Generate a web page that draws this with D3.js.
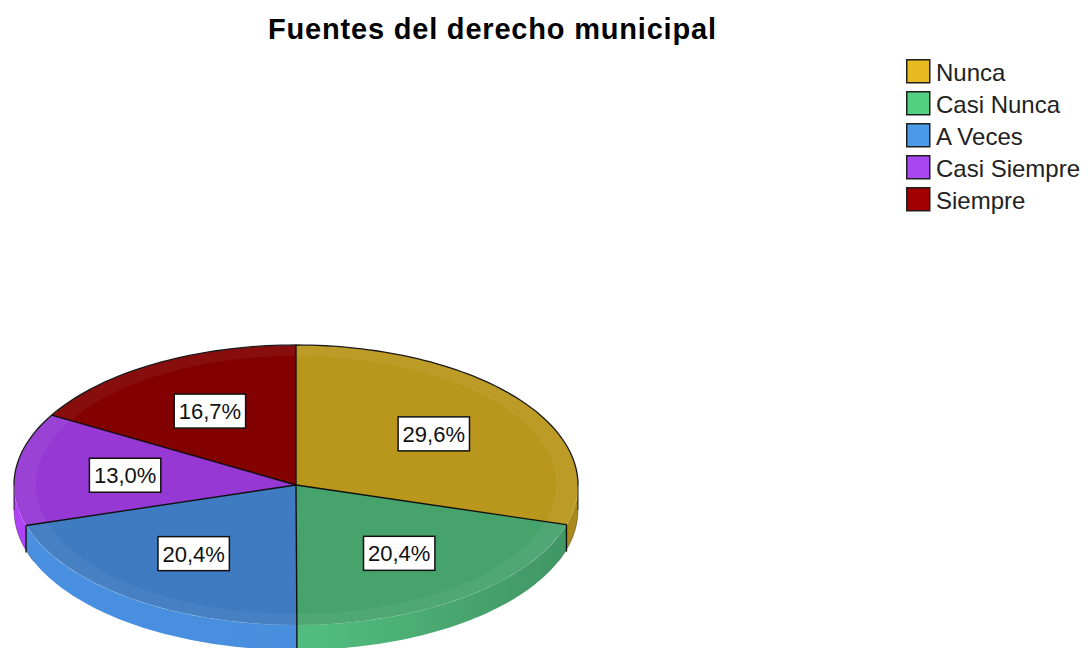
<!DOCTYPE html>
<html lang="es">
<head>
<meta charset="utf-8">
<title>Fuentes del derecho municipal</title>
<script src="https://cdn.jsdelivr.net/npm/d3@7/dist/d3.min.js"></script>
<style>
  html, body { margin: 0; padding: 0; background: #ffffff; }
  svg { display: block; font-family: "Liberation Sans", Arial, sans-serif; }
</style>
</head>
<body>
<svg id="chart" width="1090" height="648"></svg>
<script>
// Data
const categories = ["Nunca", "Casi Nunca", "A Veces", "Casi Siempre", "Siempre"];
const percentages = [29.6, 20.4, 20.4, 13.0, 16.7];
const chartTitle = "Fuentes del derecho municipal";

// Styles
const topColors    = ["#b9961c", "#46a36c", "#3e7bc0", "#9638d4", "#820000"];
const legendColors = ["#e8bb22", "#52cf80", "#4a9ae8", "#a846f2", "#a00000"];

const width = 1090, height = 648;
const cx = 296, cy = 485, rx = 282, ry = 140, depth = 25;
const labelFrac = 0.61;

const svg = d3.select("#chart");
const defs = svg.append("defs");

const fmt = v => d3.format(".1f")(v).replace(".", ",") + "%";

const pie = d3.pie().sort(null).value(d => d.value);
const slices = pie(categories.map((c, i) => ({ name: c, value: percentages[i], i })));

const pt = (a, dy = 0, f = 1) => [cx + f * rx * Math.sin(a), cy - f * ry * Math.cos(a) + dy];

// Title
svg.append("text")
  .attr("x", 492).attr("y", 39)
  .attr("text-anchor", "middle")
  .attr("font-weight", "bold")
  .attr("font-size", 29)
  .attr("textLength", 448)
  .attr("lengthAdjust", "spacing")
  .attr("fill", "#000")
  .text(chartTitle);

// Side wall gradients, one per slice, lighter toward the front-left
slices.forEach(d => {
  const base = d3.color(topColors[d.data.i]);
  const g = defs.append("linearGradient")
    .attr("id", "wall" + d.data.i)
    .attr("gradientUnits", "userSpaceOnUse")
    .attr("x1", cx - rx).attr("x2", cx + rx).attr("y1", 0).attr("y2", 0);
  g.append("stop").attr("offset", 0).attr("stop-color", base.brighter(0.45));
  g.append("stop").attr("offset", 0.55).attr("stop-color", base.brighter(0.4));
  g.append("stop").attr("offset", 0.85).attr("stop-color", base.darker(0.05));
  g.append("stop").attr("offset", 1).attr("stop-color", base.darker(0.25));
});

const pieG = svg.append("g");
const line = d3.line();

// Outer walls (front half only)
slices.forEach(d => {
  const a0 = Math.max(d.startAngle, Math.PI / 2);
  const a1 = Math.min(d.endAngle, 3 * Math.PI / 2);
  if (a0 >= a1) return;
  const steps = d3.range(0, 61).map(k => a0 + (a1 - a0) * k / 60);
  const pts = steps.map(a => pt(a)).concat(steps.slice().reverse().map(a => pt(a, depth)));
  pieG.append("path")
    .attr("d", line(pts) + "Z")
    .attr("fill", `url(#wall${d.data.i})`);
});

// Top surface
const arc = d3.arc().innerRadius(0).outerRadius(rx);
const topG = pieG.append("g")
  .attr("transform", `translate(${cx},${cy}) scale(1,${ry / rx})`);
topG.selectAll("path.slice")
  .data(slices)
  .join("path")
  .attr("class", "slice")
  .attr("d", arc)
  .attr("fill", d => topColors[d.data.i]);

// Soft bevel band along the rim of the top surface
defs.append("clipPath").attr("id", "topClip")
  .append("ellipse").attr("cx", 0).attr("cy", 0).attr("rx", rx).attr("ry", rx);
topG.append("ellipse")
  .attr("cx", 0).attr("cy", 0).attr("rx", rx).attr("ry", rx)
  .attr("fill", "none")
  .attr("stroke", "#ffffff")
  .attr("stroke-opacity", 0.05)
  .attr("stroke-width", 44)
  .attr("clip-path", "url(#topClip)");

// Silhouette outline: back rim and the two side extremes
const backAngles = d3.range(0, 121).map(k => Math.PI / 2 - Math.PI * k / 120);
pieG.append("path")
  .attr("d", line(backAngles.map(a => pt(a))))
  .attr("fill", "none").attr("stroke", "#1a1a1a").attr("stroke-width", 1.3);
[Math.PI / 2, 3 * Math.PI / 2].forEach(a => {
  pieG.append("path")
    .attr("d", line([pt(a), pt(a, depth)]))
    .attr("stroke", "#1a1a1a").attr("stroke-opacity", 0.8).attr("stroke-width", 1.2);
});
[[Math.PI / 2, Math.PI * 0.62], [Math.PI * 1.38, 3 * Math.PI / 2]].forEach(([s, e]) => {
  const ang = d3.range(0, 21).map(k => s + (e - s) * k / 20);
  pieG.append("path")
    .attr("d", line(ang.map(a => pt(a, depth))))
    .attr("fill", "none").attr("stroke", "#1a1a1a").attr("stroke-opacity", 0.35).attr("stroke-width", 1);
});

// Slice boundaries on the top and down the front walls
slices.forEach(d => {
  const a = d.startAngle;
  pieG.append("path")
    .attr("d", line([[cx, cy], pt(a)]))
    .attr("stroke", "#101010").attr("stroke-width", 1.4);
  if (a > Math.PI / 2 && a < 3 * Math.PI / 2) {
    pieG.append("path")
      .attr("d", line([pt(a), pt(a, depth + 2)]))
      .attr("stroke", "#101010").attr("stroke-width", 1.4);
  }
});

// Value labels
const labelG = svg.append("g");
slices.forEach(d => {
  const m = (d.startAngle + d.endAngle) / 2;
  const [x, y] = pt(m, 0, labelFrac);
  const g = labelG.append("g").attr("transform", `translate(${x},${y})`);
  const rect = g.append("rect");
  const t = g.append("text")
    .attr("text-anchor", "middle")
    .attr("dy", "0.36em")
    .attr("font-size", 22)
    .attr("fill", "#111")
    .text(fmt(d.data.value));
  const w = t.node().getComputedTextLength() + 9;
  const h = 34;
  rect.attr("x", -w / 2).attr("y", -h / 2)
    .attr("width", w).attr("height", h)
    .attr("fill", "#ffffff")
    .attr("stroke", "#111").attr("stroke-width", 1.5);
});

// Legend
const legend = svg.append("g").attr("transform", "translate(906,59)");
const rows = legend.selectAll("g").data(categories).join("g")
  .attr("transform", (d, i) => `translate(0,${i * 32})`);
rows.append("rect")
  .attr("x", 0.75).attr("y", 0.75).attr("width", 23).attr("height", 23)
  .attr("fill", (d, i) => legendColors[i])
  .attr("stroke", "#1f1f1f").attr("stroke-width", 1.5);
rows.append("text")
  .attr("x", 30).attr("y", 22)
  .attr("font-size", 24)
  .attr("fill", "#222")
  .text(d => d);
</script>
</body>
</html>
